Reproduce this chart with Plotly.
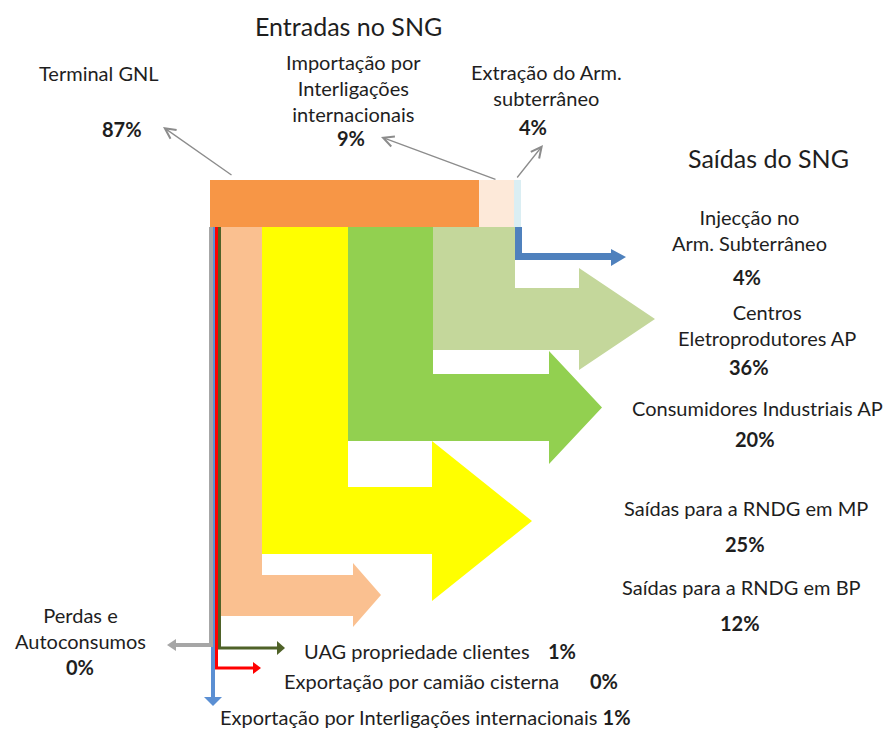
import plotly.graph_objects as go

# ---------------- data ----------------
entradas_labels = ["Terminal GNL",
                   "Importação por<br>Interligações<br>internacionais",
                   "Extração do Arm.<br>subterrâneo"]
entradas_pct = [87, 9, 4]

saidas_labels = ["Injecção no<br>Arm. Subterrâneo",
                 "Centros<br>Eletroprodutores AP",
                 "Consumidores Industriais AP",
                 "Saídas para a RNDG em MP",
                 "Saídas para a RNDG em BP",
                 "Perdas e<br>Autoconsumos",
                 "UAG propriedade clientes",
                 "Exportação por camião cisterna",
                 "Exportação por Interligações internacionais"]
saidas_pct = [4, 36, 20, 25, 12, 0, 1, 0, 1]

titles = ["Entradas no SNG", "Saídas do SNG"]

# ---------------- layout / geometry (diagram space) ----------------
W, H = 887, 729
FONT = "Lato"
TXT = "#1E1E1E"
FS = 20

bar_top, bar_bot = 180, 227
bar_edges = [210, 479, 514, 521]
bar_colors = ["#F79646", "#FDE9D9", "#DAEEF3"]

# big L-arrows: (x0, x1, shaft_top, shaft_bot, shaft_end, head_top, head_bot, tip, color)
big_arrows = [
    (433, 515, 288, 350, 579, 268, 370, 655, "#C4D79B"),
    (348, 433, 374, 441, 549, 351, 464, 602, "#92D050"),
    (262, 348, 487, 554, 432, 441, 601, 532, "#FFFF00"),
    (221, 262, 575, 616, 353, 563, 627, 381, "#FAC090"),
]

fig = go.Figure()
fig.add_trace(go.Scatter(x=[0, W], y=[0, H], mode="markers",
                         marker=dict(opacity=0), hoverinfo="skip", showlegend=False))

shapes = []
# top input bar
for i, c in enumerate(bar_colors):
    shapes.append(dict(type="rect", x0=bar_edges[i], x1=bar_edges[i + 1],
                       y0=bar_top, y1=bar_bot, fillcolor=c, line_width=0, layer="above"))

for (x0, x1, ys, yb, xe, ht, hb, tip, c) in big_arrows:
    ym = (ht + hb) / 2
    p = (f"M{x0},{bar_bot} L{x1},{bar_bot} L{x1},{ys} L{xe},{ys} L{xe},{ht} "
         f"L{tip},{ym} L{xe},{hb} L{xe},{yb} L{x0},{yb} Z")
    shapes.append(dict(type="path", path=p, fillcolor=c, line_width=0, layer="above"))


def line_path(p, color, w):
    shapes.append(dict(type="path", path=p, line=dict(color=color, width=w), layer="above"))


def tri(p, color):
    shapes.append(dict(type="path", path=p, fillcolor=color, line_width=0, layer="above"))


# thin flows
blue2 = "#5B8FD3"
line_path(f"M213,{bar_bot} V698", blue2, 4)
tri("M204,697 L213,706 L222,697 Z", blue2)
gray = "#A6A6A6"
line_path(f"M211,{bar_bot} V645 H175", gray, 4)
tri("M176,639 L167,645 L176,651 Z", gray)
line_path(f"M216.5,{bar_bot} V668 H254", "#FF0000", 3)
tri("M253,662 L261,668 L253,674 Z", "#FF0000")
dg = "#4F6228"
line_path(f"M219.5,{bar_bot} V648 H278", dg, 3)
tri("M277,641 L285,648 L277,655 Z", dg)

# injection arrow
inj = "#4F81BD"
tri(f"M515,{bar_bot} L522,{bar_bot} L522,253 L611,253 L611,249 L626,257 L611,266 "
    f"L611,260 L515,260 Z", inj)

fig.update_layout(shapes=shapes)

ann = []


def text(x, y, t, size=FS, bold=False, xanchor="center"):
    ann.append(dict(x=x, y=y, text=(f"<b>{t}</b>" if bold else t), showarrow=False,
                    xanchor=xanchor, yanchor="middle",
                    font=dict(family=FONT, size=size, color=TXT)))


# titles
text(348, 26, titles[0], size=25)
text(768, 158, titles[1], size=25)

# inputs
in_pos = [(99, 73, 122, 129), (353, 88, 351, 138), (546, 85, 533, 127)]
for lab, v, (lx, ly, px, py) in zip(entradas_labels, entradas_pct, in_pos):
    text(lx, ly, lab)
    text(px, py, f"{v}%", bold=True)

# outputs
out_pos = [(749, 230, 747, 277), (767, 325, 749, 367), (757, 408, 755, 439),
           (746, 508, 745, 544), (741, 587, 740, 623), (80, 628, 80, 667)]
for i, (lx, ly, px, py) in enumerate(out_pos):
    text(lx, ly, saidas_labels[i])
    text(px, py, f"{saidas_pct[i]}%", bold=True)

# bottom inline labels
text(302, 651, saidas_labels[6], xanchor="left")
text(546, 651, f"{saidas_pct[6]}%", bold=True, xanchor="left")
text(282, 681, saidas_labels[7], xanchor="left")
text(588, 681, f"{saidas_pct[7]}%", bold=True, xanchor="left")
text(218, 717, saidas_labels[8] + f" <b>{saidas_pct[8]}%</b>", xanchor="left")

# leader arrows
leaders = [((163, 127), (233, 176)), ((381, 137), (497, 180)), ((543, 145), (516, 179))]
for (hx, hy), (tx, ty) in leaders:
    ann.append(dict(x=hx, y=hy, ax=tx, ay=ty, xref="x", yref="y", axref="x", ayref="y",
                    text="", showarrow=True, arrowhead=5, arrowsize=1.6, arrowwidth=1.3,
                    arrowcolor="#8C8C8C"))

fig.update_layout(
    annotations=ann,
    width=W, height=H,
    margin=dict(l=0, r=0, t=0, b=0),
    paper_bgcolor="white", plot_bgcolor="white",
    xaxis=dict(range=[0, W], visible=False, fixedrange=True),
    yaxis=dict(range=[H, 0], visible=False, fixedrange=True),
    showlegend=False,
)

fig.write_html("out.html", config={"displayModeBar": False})

# remove default page margin so the figure sits at the window's top-left corner
with open("out.html", "r", encoding="utf-8") as f:
    html = f.read()
html = html.replace("<body>", '<body style="margin:0;padding:0;overflow:hidden">', 1)
with open("out.html", "w", encoding="utf-8") as f:
    f.write(html)
